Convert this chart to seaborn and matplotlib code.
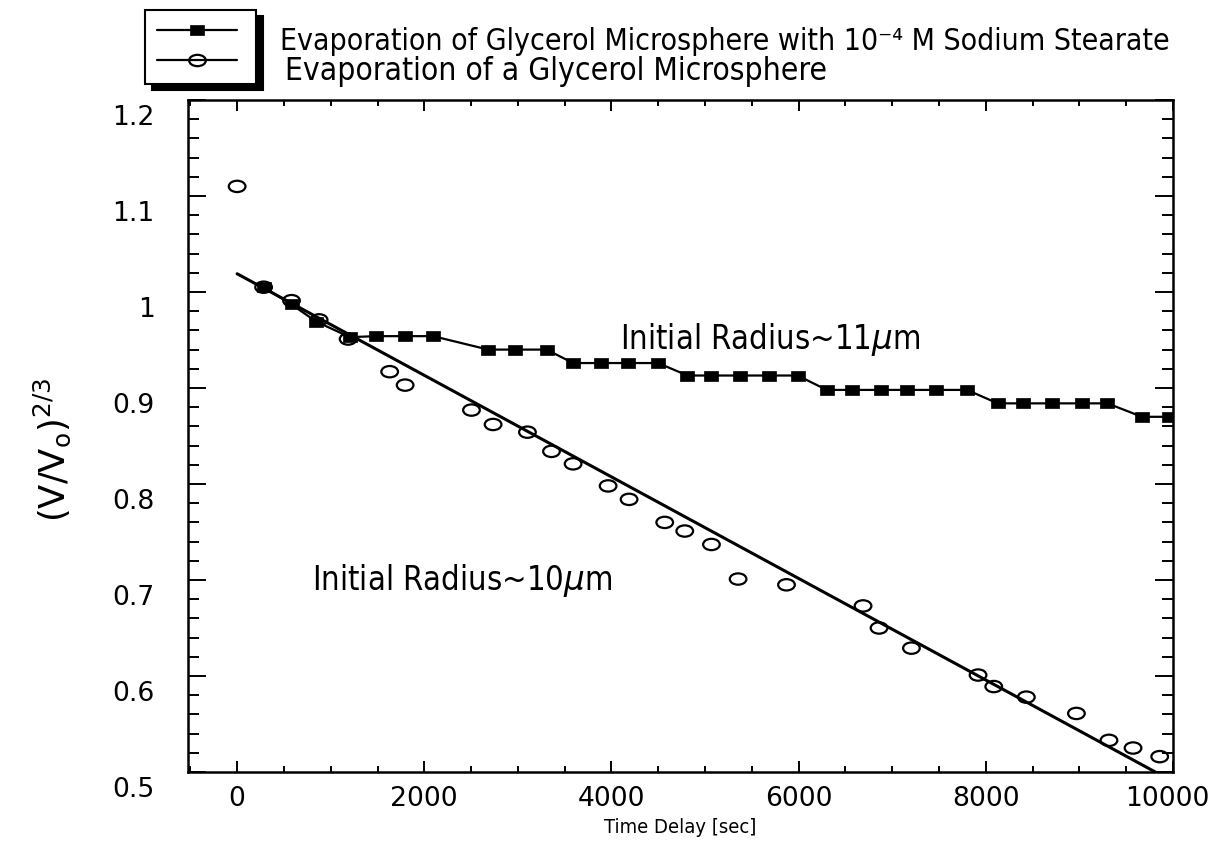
import numpy as np
import pandas as pd
import matplotlib
matplotlib.use("Agg")
import matplotlib.pyplot as plt
import matplotlib.transforms as mtransforms
from matplotlib.path import Path
from matplotlib.lines import Line2D
from matplotlib.ticker import MultipleLocator, FixedLocator
import seaborn as sns

# ---------------- data ----------------
stearate_time = [283, 581, 848, 1204, 1489, 1792, 2094, 2682, 2967, 3306,
                 3590, 3893, 4177, 4498, 4812, 5066, 5375, 5683, 5990,
                 6299, 6566, 6875, 7162, 7470, 7799, 8127, 8394, 8704,
                 9032, 9299, 9669, 9960]
stearate_ratio = [1.005, 0.987, 0.969, 0.953, 0.954, 0.954, 0.954, 0.940,
                  0.940, 0.940, 0.926, 0.926, 0.926, 0.926, 0.913, 0.913,
                  0.913, 0.913, 0.913, 0.898, 0.898, 0.898, 0.898, 0.898,
                  0.898, 0.884, 0.884, 0.884, 0.884, 0.884, 0.870, 0.870]

glycerol_time = [0, 283, 581, 876, 1186, 1630, 1795, 2504, 2735, 3102, 3359,
                 3590, 3964, 4188, 4569, 4783, 5068, 5353, 5870, 6688, 6859,
                 7205, 7917, 8085, 8433, 8968, 9316, 9573, 9858]
glycerol_ratio = [1.110, 1.005, 0.991, 0.971, 0.951, 0.917, 0.903, 0.877,
                  0.862, 0.854, 0.834, 0.821, 0.798, 0.784, 0.760, 0.751,
                  0.737, 0.701, 0.695, 0.673, 0.650, 0.629, 0.601, 0.589,
                  0.578, 0.561, 0.533, 0.525, 0.516]

fit_time = [0, 9811]
fit_ratio = [1.019, 0.5]

x_ticks = [0, 2000, 4000, 6000, 8000, 10000]
x_tick_labels = ["0", "2000", "4000", "6000", "8000", "10000"]
y_ticks = [0.5, 0.6, 0.7, 0.8, 0.9, 1.0, 1.1, 1.2]
y_tick_labels = ["0.5", "0.6", "0.7", "0.8", "0.9", "1", "1.1", "1.2"]

label_stearate = "Evaporation of Glycerol Microsphere with 10\u207b\u2074 M Sodium Stearate"
label_glycerol = "Evaporation of a Glycerol Microsphere"
note_11 = r"Initial Radius~11$\mathit{\mu}$m"
note_10 = r"Initial Radius~10$\mathit{\mu}$m"

# ---------------- style ----------------
sns.set_theme(style="ticks")
plt.rcParams["font.family"] = ["DejaVu Sans"]
plt.rcParams["mathtext.default"] = "regular"

W, H = 1209, 855
fig = plt.figure(figsize=(W / 100, H / 100), dpi=100)
fig.patch.set_facecolor("white")
ax = fig.add_axes([188 / W, 1 - 772 / H, (1173 - 188) / W, (772 - 100) / H])
ax.set_facecolor("white")

# custom markers: filled rectangle and flattened open ellipse
rect_marker = Path([(-1, -0.77), (1, -0.77), (1, 0.77), (-1, 0.77), (-1, -0.77)],
                   closed=True)
uc = Path.unit_circle()
ell_marker = Path(uc.vertices * np.array([1.0, 0.68]), uc.codes)

df_s = pd.DataFrame({"t": stearate_time, "r": stearate_ratio})
df_g = pd.DataFrame({"t": glycerol_time, "r": glycerol_ratio})
df_f = pd.DataFrame({"t": fit_time, "r": fit_ratio})

sns.lineplot(data=df_f, x="t", y="r", ax=ax, color="black", lw=2.2,
             zorder=2, sort=False)
sns.lineplot(data=df_s, x="t", y="r", ax=ax, color="black", lw=1.6,
             marker=rect_marker, markersize=9.6, mec="black", mew=0.5,
             zorder=3, sort=False)
sns.scatterplot(data=df_g, x="t", y="r", ax=ax, marker=ell_marker,
                s=12.0 ** 2, facecolor="none", edgecolor="black",
                linewidth=1.6, zorder=4)

ax.set_xlim(-525, 10000)
ax.set_ylim(0.5, 1.2)
ax.xaxis.set_major_locator(FixedLocator(x_ticks))
ax.set_xticklabels(x_tick_labels)
ax.xaxis.set_minor_locator(MultipleLocator(500))
ax.yaxis.set_major_locator(FixedLocator(y_ticks))
ax.set_yticklabels(y_tick_labels)
ax.yaxis.set_minor_locator(MultipleLocator(0.02))

ax.tick_params(which="both", direction="in", top=True, right=True,
               color="black", width=1.4, labelcolor="black")
ax.tick_params(axis="x", which="major", length=8, pad=10, labelsize=19.2)
ax.tick_params(axis="x", which="minor", length=4)
ax.tick_params(axis="y", which="major", length=13, pad=24, labelsize=19.2)
ax.tick_params(axis="y", which="minor", length=8)
for sp in ax.spines.values():
    sp.set_visible(True)
    sp.set_color("black")
    sp.set_linewidth(1.8)

# y tick labels sit somewhat below their ticks in the reference
offset = mtransforms.ScaledTranslation(0, -15 / 100, fig.dpi_scale_trans)
for lab in ax.get_yticklabels():
    lab.set_transform(lab.get_transform() + offset)
# keep the last x label inside the picture
xlabs = ax.get_xticklabels()
xlabs[-1].set_transform(xlabs[-1].get_transform() +
                        mtransforms.ScaledTranslation(-6 / 100, 0, fig.dpi_scale_trans))

ax.set_xlabel("Time Delay [sec]", fontsize=14.5, color="black",
              fontstretch="condensed")
ax.xaxis.label.set_va("center")
ax.xaxis.set_label_coords(0.5, -0.083)
ax.set_ylabel(r"(V/V$_\mathregular{o}$)$^\mathregular{2/3}$", fontsize=25.5,
              color="black")
ax.yaxis.label.set_va("center")
ax.yaxis.set_label_coords(-0.138, 0.479)

ax.text(4089, 0.951, note_11, fontsize=23.5, va="center", ha="left",
        color="black", fontstretch="condensed")
ax.text(798, 0.70, note_10, fontsize=23.5, va="center", ha="left",
        color="black", fontstretch="condensed")

# legend box (symbols only), labels written beside it
handles = [
    Line2D([], [], color="black", lw=1.6, marker=rect_marker, ms=9.6,
           mec="black", mew=0.5),
    Line2D([], [], color="black", lw=1.6, marker=ell_marker, ms=12.0,
           mfc="none", mec="black", mew=1.6),
]
leg = fig.legend(handles, ["", ""], loc="upper left",
                 bbox_to_anchor=(145 / W, 1 - 10 / H), borderaxespad=0,
                 frameon=True, fancybox=False, framealpha=1,
                 edgecolor="black", facecolor="white",
                 shadow={"ox": 5, "oy": -4, "color": "black", "alpha": 1},
                 fontsize=16, handlelength=3.6, handletextpad=0.3,
                 borderpad=0.55, labelspacing=0.45, numpoints=1)
leg.get_frame().set_linewidth(1.5)

fig.text(280 / W, 1 - 50 / H, label_stearate, fontsize=21.6, ha="left",
         va="baseline", color="black", fontstretch="condensed")
fig.text(285 / W, 1 - 80 / H, label_glycerol, fontsize=22.8, ha="left",
         va="baseline", color="black", fontstretch="condensed")

fig.savefig("out.png", dpi=100)
